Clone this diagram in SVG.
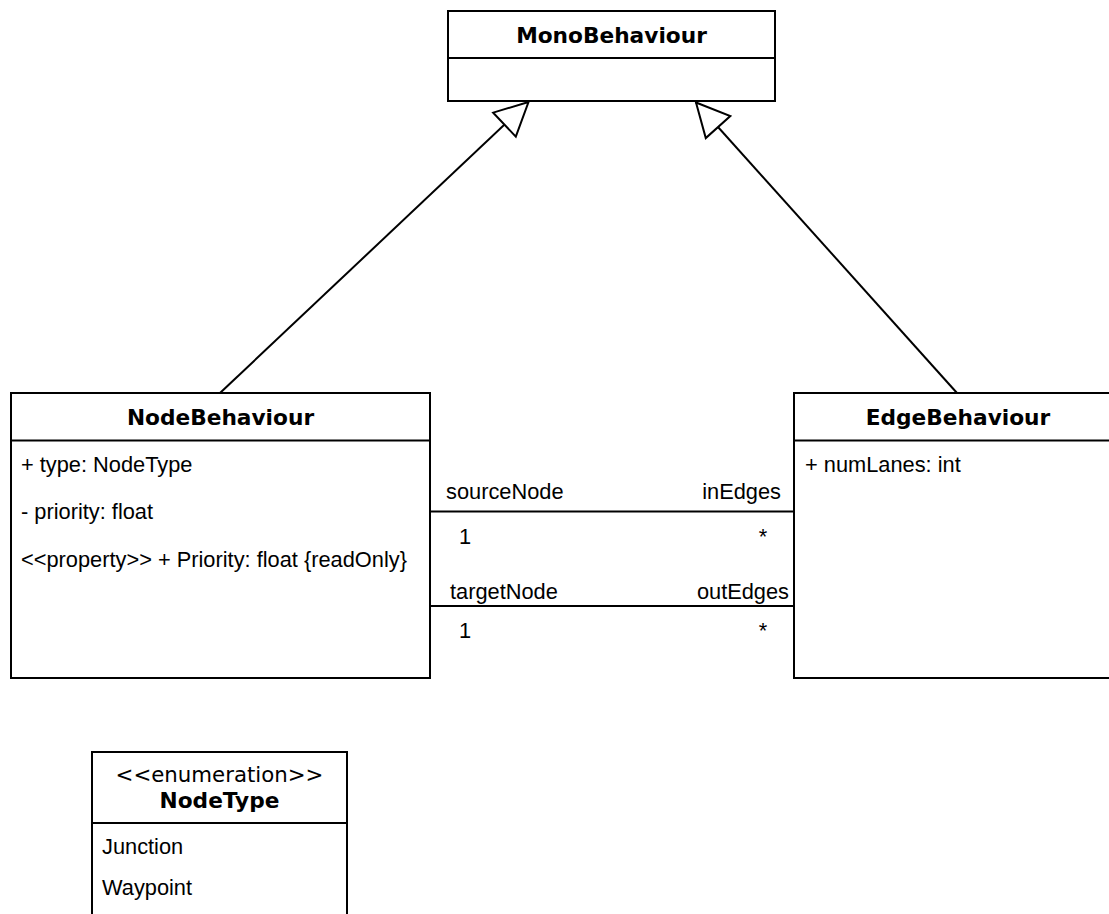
<svg xmlns="http://www.w3.org/2000/svg" width="1109" height="914" viewBox="0 0 1109 914">
  <style>
    .box { fill: #ffffff; stroke: #000000; stroke-width: 2; }
    .sep { stroke: #000000; stroke-width: 2; fill: none; }
    .edge { stroke: #000000; stroke-width: 2; fill: none; }
    .title { font-family: "DejaVu Sans", Verdana, sans-serif; font-weight: bold; font-size: 21.7px; fill: #000000; text-anchor: middle; }
    .stereo { font-family: "DejaVu Sans", Verdana, sans-serif; font-size: 21.3px; fill: #000000; text-anchor: middle; }
    .attr { font-family: "Liberation Sans", Arial, sans-serif; font-size: 21.8px; fill: #000000; }
    .end { text-anchor: end; }
    .mid { text-anchor: middle; }
  </style>
  <defs>
    <!-- hollow triangle for generalization -->
    <marker id="inherit" markerUnits="userSpaceOnUse" markerWidth="40" markerHeight="40" viewBox="-36 -20 40 40" refX="0" refY="0" orient="auto">
      <path d="M0,0 L-33,-16.5 L-33,16.5 Z" fill="#ffffff" stroke="#000000" stroke-width="2" stroke-linejoin="miter"/>
    </marker>
  </defs>

  <rect width="1109" height="914" fill="#ffffff"/>

  <!-- connectors -->
  <g id="connectors">
    <path class="edge" d="M220,393 L528.5,102" marker-end="url(#inherit)"/>
    <path class="edge" d="M957,393 L696,102.5" marker-end="url(#inherit)"/>
    <line class="edge" x1="430" y1="511.5" x2="794" y2="511.5"/>
    <line class="edge" x1="430" y1="606" x2="794" y2="606"/>
    <text class="attr" x="446" y="499">sourceNode</text>
    <text class="attr end" x="781" y="499">inEdges</text>
    <text class="attr" x="459" y="544">1</text>
    <text class="attr mid" x="763" y="544">*</text>
    <text class="attr" x="450" y="599">targetNode</text>
    <text class="attr end" x="789" y="599">outEdges</text>
    <text class="attr" x="459" y="637.5">1</text>
    <text class="attr mid" x="763" y="637.5">*</text>
  </g>

  <!-- MonoBehaviour -->
  <g id="MonoBehaviour">
    <rect class="box" x="448" y="11" width="327" height="90"/>
    <line class="sep" x1="448" y1="58" x2="775" y2="58"/>
    <text class="title" x="611.5" y="43">MonoBehaviour</text>
  </g>

  <!-- NodeBehaviour -->
  <g id="NodeBehaviour">
    <rect class="box" x="11" y="393" width="419" height="285"/>
    <line class="sep" x1="11" y1="440.5" x2="430" y2="440.5"/>
    <text class="title" x="220.5" y="425">NodeBehaviour</text>
    <text class="attr" x="21" y="472">+ type: NodeType</text>
    <text class="attr" x="21" y="519">- priority: float</text>
    <text class="attr" x="21" y="566.5">&lt;&lt;property&gt;&gt; + Priority: float {readOnly}</text>
  </g>

  <!-- EdgeBehaviour -->
  <g id="EdgeBehaviour">
    <rect class="box" x="794" y="393" width="328" height="285"/>
    <line class="sep" x1="794" y1="440.5" x2="1122" y2="440.5"/>
    <text class="title" x="958" y="425">EdgeBehaviour</text>
    <text class="attr" x="805" y="472">+ numLanes: int</text>
  </g>

  <!-- NodeType enumeration -->
  <g id="NodeType">
    <rect class="box" x="92" y="752" width="255" height="190"/>
    <line class="sep" x1="92" y1="823" x2="347" y2="823"/>
    <text class="stereo" x="219.5" y="782">&lt;&lt;enumeration&gt;&gt;</text>
    <text class="title" x="219.5" y="808">NodeType</text>
    <text class="attr" x="102" y="853.5">Junction</text>
    <text class="attr" x="102" y="895">Waypoint</text>
  </g>
</svg>
